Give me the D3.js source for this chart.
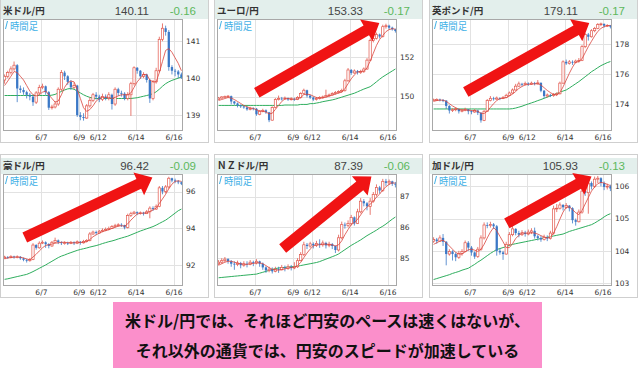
<!DOCTYPE html>
<html><head><meta charset="utf-8">
<script src="https://cdn.jsdelivr.net/npm/d3@7"></script>
<style>body{margin:0;background:#fff}svg{display:block}</style>
</head><body>
<script>
// ---------- DATA ----------
const names = ["米ドル/円","ユーロ/円","英ポンド/円","豪ドル/円","ＮＺドル/円","加ドル/円"];
const lastValues = ["140.11","153.33","179.11","96.42","87.39","105.93"];
const changes = ["-0.16","-0.17","-0.17","-0.09","-0.06","-0.13"];
const dateLabels = ["6/7","6/9","6/12","6/14","6/16"];
const dateIndex = [12,24,30,42,54];
const periodLabel = "時間足";
const captionLines = ["米ドル/円では、それほど円安のペースは速くはないが、","それ以外の通貨では、円安のスピードが加速している"];

const usdTicks=[139,140,141], eurTicks=[150,152], gbpTicks=[174,176,178], audTicks=[92,94,96], nzdTicks=[85,86,87], cadTicks=[103,104,105,106];

const usdOpen0=139.95;
const usdClose=[140.05,140.15,140.25,140.35,139.72,139.68,139.62,139.55,139.50,139.35,139.60,139.75,139.78,139.62,139.20,139.22,139.30,139.70,140.15,140.05,139.90,139.75,139.80,139.00,138.95,138.92,139.25,139.40,139.55,139.50,139.42,139.50,139.45,139.55,139.30,139.70,139.60,139.58,139.45,139.55,139.85,140.28,140.20,140.05,140.10,139.95,139.45,139.90,140.20,141.05,141.35,141.25,140.30,140.20,140.18,140.10,140.02];
const usdHigh=[140.10,140.20,140.32,140.45,140.38,139.80,139.75,139.66,139.60,139.55,139.65,139.82,139.85,139.80,139.65,139.28,139.38,139.75,140.22,140.20,140.08,139.95,139.88,139.82,139.08,139.05,139.30,139.48,139.60,139.62,139.55,139.58,139.56,139.62,139.58,139.75,139.74,139.66,139.62,139.62,139.90,140.32,140.30,140.22,140.16,140.12,139.98,139.95,140.28,141.12,141.48,141.42,141.30,140.35,140.25,140.22,140.15];
const usdLow=[139.85,140.00,140.10,140.20,139.35,139.60,139.55,139.45,139.40,139.25,139.30,139.55,139.70,139.55,139.14,139.15,139.18,139.25,139.65,139.95,139.82,139.68,139.70,138.95,138.86,138.85,138.90,139.20,139.35,139.42,139.35,139.38,139.40,139.40,139.15,139.25,139.52,139.50,139.40,139.40,138.98,139.80,140.12,139.98,140.00,139.88,139.33,139.40,139.85,140.15,141.00,141.15,140.20,140.10,140.05,140.00,139.98];
const usdMaShort=[139.80,139.92,140.05,140.18,140.15,140.05,139.95,139.80,139.65,139.55,139.52,139.55,139.62,139.65,139.55,139.45,139.35,139.38,139.55,139.75,139.88,139.92,139.90,139.70,139.45,139.20,139.10,139.15,139.25,139.38,139.45,139.48,139.48,139.48,139.45,139.48,139.52,139.55,139.55,139.55,139.60,139.75,139.90,140.00,140.10,140.10,139.95,139.90,139.90,140.15,140.45,140.75,140.80,140.70,140.55,140.40,140.20];
const usdMaLong=[139.53,139.53,139.53,139.53,139.53,139.53,139.53,139.53,139.53,139.53,139.53,139.53,139.53,139.53,139.53,139.54,139.56,139.60,139.64,139.68,139.71,139.72,139.70,139.65,139.60,139.55,139.51,139.48,139.46,139.45,139.45,139.45,139.45,139.45,139.45,139.45,139.45,139.45,139.45,139.45,139.45,139.46,139.47,139.49,139.51,139.53,139.55,139.58,139.63,139.70,139.78,139.85,139.90,139.94,139.97,140.00,140.03];

const eurOpen0=149.85;
const eurClose=[149.92,149.98,150.00,150.02,149.75,149.65,149.55,149.50,149.45,149.35,149.40,149.38,149.10,149.25,149.30,149.20,148.80,149.45,149.85,149.90,149.88,149.92,149.85,149.88,149.85,149.95,150.15,150.32,150.05,149.95,149.85,149.90,149.95,149.98,150.05,150.08,150.15,150.20,150.25,150.30,150.80,151.35,151.20,151.30,151.22,151.28,151.40,151.85,152.85,152.95,153.15,153.05,153.55,153.60,153.50,153.42,153.33];
const eurHigh=[149.98,150.02,150.05,150.08,150.05,149.78,149.70,149.60,149.55,149.50,149.48,149.45,149.42,149.30,149.38,149.35,149.22,149.50,149.92,150.05,149.98,150.00,149.95,149.96,149.94,150.02,150.22,150.40,150.35,150.08,150.00,149.98,150.02,150.05,150.35,150.15,150.22,150.28,150.32,150.40,150.90,151.45,151.40,151.38,151.35,151.36,151.48,151.95,152.95,153.05,153.25,153.20,153.65,153.70,153.65,153.55,153.45];
const eurLow=[149.85,149.90,149.95,149.96,149.60,149.58,149.45,149.42,149.38,149.28,149.30,149.30,149.02,149.05,149.20,149.12,148.70,148.78,149.40,149.80,149.80,149.84,149.78,149.80,149.78,149.82,149.90,150.10,149.95,149.88,149.78,149.80,149.85,149.90,149.95,150.00,150.05,150.10,150.15,150.20,150.25,150.75,151.10,151.15,151.12,151.15,151.20,151.35,151.80,152.75,152.90,152.95,153.00,153.45,153.40,153.35,153.25];
const eurMaShort=[149.80,149.85,149.90,149.95,149.92,149.85,149.75,149.65,149.55,149.48,149.42,149.40,149.32,149.28,149.25,149.22,149.12,149.15,149.35,149.55,149.75,149.88,149.90,149.88,149.87,149.88,149.95,150.10,150.12,150.10,150.02,149.95,149.92,149.93,149.98,150.02,150.08,150.12,150.18,150.22,150.40,150.65,150.90,151.10,151.25,151.27,151.30,151.45,151.80,152.20,152.60,152.90,153.10,153.30,153.40,153.45,153.42];
const eurMaLong=[149.55,149.55,149.55,149.55,149.55,149.55,149.55,149.55,149.55,149.55,149.55,149.55,149.55,149.55,149.55,149.55,149.55,149.55,149.55,149.55,149.55,149.57,149.57,149.57,149.57,149.57,149.60,149.60,149.60,149.64,149.64,149.67,149.70,149.74,149.77,149.80,149.83,149.87,149.92,149.97,150.02,150.07,150.12,150.17,150.24,150.31,150.38,150.44,150.50,150.62,150.75,150.88,151.00,151.10,151.20,151.30,151.40];

const gbpOpen0=174.25;
const gbpClose=[174.30,174.32,174.28,174.25,173.90,173.60,173.65,173.70,173.55,173.62,173.68,173.55,173.50,173.60,173.45,172.95,173.55,174.25,174.40,174.35,174.42,174.38,174.45,174.60,174.75,174.95,175.20,175.35,175.30,175.38,175.32,175.40,175.35,175.42,174.90,174.55,174.62,174.58,174.65,174.70,175.40,176.80,176.70,176.80,176.75,176.85,176.90,177.80,178.60,178.45,178.85,179.00,179.25,179.30,179.18,179.20,179.11];
const gbpHigh=[174.38,174.40,174.38,174.35,174.28,173.95,173.75,173.80,173.72,173.70,173.78,173.70,173.62,173.70,173.65,173.48,173.62,174.35,174.55,174.50,174.52,174.48,174.55,174.70,174.85,175.05,175.35,175.50,175.42,175.50,175.45,175.50,175.48,175.60,175.45,174.95,174.72,174.70,174.75,174.80,175.50,176.90,176.95,176.92,176.90,176.95,177.05,177.90,178.70,178.70,178.95,179.10,179.35,179.38,179.32,179.28,179.22];
const gbpLow=[174.20,174.25,174.20,174.15,173.70,173.40,173.50,173.55,173.40,173.48,173.55,173.35,173.35,173.45,173.30,172.80,172.90,173.50,174.20,174.25,174.30,174.28,174.35,174.40,174.55,174.70,174.90,175.15,175.20,175.25,175.22,175.28,175.25,175.30,174.80,174.40,174.45,174.48,174.50,174.55,174.65,175.35,176.60,176.62,176.60,176.70,176.75,176.85,177.70,178.20,178.40,178.75,178.95,179.15,179.05,179.10,179.00];
const gbpMaShort=[174.20,174.25,174.28,174.28,174.20,174.05,173.90,173.78,173.68,173.63,173.63,173.62,173.60,173.58,173.55,173.42,173.40,173.55,173.80,174.05,174.25,174.38,174.40,174.45,174.55,174.68,174.85,175.05,175.18,175.28,175.32,175.35,175.35,175.37,175.28,175.10,174.92,174.78,174.65,174.62,174.78,175.15,175.60,176.05,176.45,176.78,176.82,177.00,177.40,177.80,178.15,178.50,178.80,179.00,179.12,179.18,179.20];
const gbpMaLong=[173.70,173.70,173.70,173.70,173.70,173.70,173.70,173.70,173.70,173.70,173.70,173.70,173.70,173.70,173.70,173.70,173.70,173.70,173.70,173.70,173.70,173.70,173.70,173.70,173.70,173.72,173.76,173.82,173.88,173.96,174.03,174.10,174.17,174.25,174.32,174.40,174.48,174.56,174.64,174.72,174.80,174.88,174.95,175.08,175.22,175.36,175.50,175.66,175.82,175.98,176.15,176.28,176.42,176.55,176.65,176.75,176.82];

const audOpen0=92.40;
const audClose=[92.45,92.42,92.48,92.44,92.46,92.38,92.30,92.25,92.32,93.10,92.95,93.20,93.25,93.15,93.05,93.25,93.35,93.25,93.20,93.22,93.18,93.25,93.20,93.28,93.22,93.30,93.35,93.70,93.80,93.75,93.85,93.90,93.95,94.00,94.10,94.15,94.20,94.18,94.05,94.70,94.80,94.88,94.82,94.85,94.80,94.90,95.10,95.05,95.20,96.20,96.00,96.25,96.72,96.60,96.55,96.50,96.42];
const audHigh=[92.52,92.50,92.55,92.52,92.54,92.50,92.42,92.35,92.40,93.20,93.15,93.30,93.35,93.30,93.20,93.32,93.50,93.40,93.30,93.30,93.28,93.32,93.30,93.35,93.32,93.38,93.42,93.80,93.88,93.88,93.92,94.00,94.05,94.10,94.18,94.25,94.28,94.28,94.20,94.80,94.90,94.95,94.92,94.92,94.90,95.00,95.20,95.20,95.30,96.30,96.30,96.35,96.80,96.75,96.70,96.62,96.55];
const audLow=[92.35,92.35,92.38,92.36,92.38,92.30,92.22,92.15,92.20,92.28,92.85,92.90,93.15,92.95,92.92,93.00,93.20,93.15,93.10,93.12,93.10,93.15,93.10,93.15,93.12,93.18,93.25,93.30,93.65,93.65,93.72,93.80,93.85,93.90,93.98,94.05,94.10,94.08,93.95,94.00,94.62,94.75,94.72,94.75,94.70,94.78,94.55,94.95,95.00,95.15,95.85,95.90,96.15,96.50,96.45,96.40,96.35];
const audMaShort=[92.35,92.40,92.42,92.44,92.45,92.44,92.40,92.35,92.30,92.45,92.60,92.78,92.95,93.08,93.12,93.15,93.20,93.22,93.25,93.25,93.23,93.22,93.22,93.23,93.24,93.25,93.28,93.40,93.55,93.65,93.75,93.82,93.88,93.93,94.00,94.06,94.12,94.15,94.12,94.25,94.45,94.62,94.78,94.82,94.83,94.85,94.92,95.00,95.10,95.35,95.60,95.85,96.15,96.40,96.55,96.58,96.55];
const audMaLong=[91.24,91.27,91.31,91.35,91.39,91.43,91.47,91.51,91.58,91.66,91.75,91.84,91.93,92.02,92.12,92.22,92.32,92.42,92.50,92.56,92.63,92.69,92.75,92.81,92.86,92.90,92.94,92.99,93.03,93.07,93.12,93.18,93.23,93.28,93.32,93.37,93.43,93.48,93.53,93.58,93.65,93.72,93.79,93.86,93.92,93.98,94.04,94.10,94.18,94.27,94.36,94.45,94.57,94.70,94.83,94.96,95.05];

const nzdOpen0=84.80;
const nzdClose=[84.85,84.90,84.95,84.88,84.80,84.78,84.82,84.75,84.80,84.78,84.85,84.82,84.88,84.80,84.68,84.58,84.62,84.55,84.62,84.60,84.68,84.65,84.70,84.66,84.70,84.90,85.10,85.42,85.38,85.45,85.40,85.46,85.42,85.48,85.40,85.44,85.38,85.25,85.65,86.08,86.05,86.12,86.32,86.12,86.50,86.85,86.78,86.68,86.85,87.07,87.30,87.20,87.50,87.45,87.50,87.42,87.39];
const nzdHigh=[84.92,84.98,85.02,84.98,84.92,84.88,84.90,84.86,84.88,84.88,84.92,84.90,84.95,84.90,84.84,84.72,84.70,84.68,84.70,84.70,84.76,84.74,84.78,84.76,84.85,84.98,85.18,85.52,85.48,85.52,85.50,85.55,85.60,85.56,85.52,85.52,85.48,85.40,85.75,86.18,86.15,86.22,86.40,86.35,86.60,86.95,86.92,86.82,86.95,87.15,87.40,87.35,87.58,87.58,87.56,87.52,87.48];
const nzdLow=[84.75,84.80,84.85,84.80,84.70,84.60,84.72,84.65,84.70,84.68,84.75,84.72,84.78,84.70,84.60,84.50,84.52,84.48,84.52,84.50,84.58,84.55,84.60,84.58,84.62,84.66,84.88,85.05,85.28,85.32,85.30,85.35,85.32,85.36,85.30,85.34,85.28,85.15,85.20,85.60,85.95,86.00,86.05,86.05,86.10,86.45,86.68,86.55,86.40,86.80,87.00,87.10,87.15,87.35,87.38,87.35,87.30];
const nzdMaShort=[84.75,84.80,84.85,84.88,84.88,84.85,84.82,84.80,84.78,84.78,84.80,84.81,84.83,84.83,84.80,84.74,84.67,84.62,84.60,84.59,84.61,84.63,84.66,84.67,84.68,84.74,84.84,85.00,85.15,85.28,85.38,85.42,85.42,85.44,85.44,85.43,85.42,85.38,85.42,85.55,85.75,85.92,86.08,86.15,86.25,86.40,86.55,86.65,86.75,86.85,86.98,87.08,87.22,87.32,87.40,87.45,87.44];
const nzdMaLong=[84.34,84.35,84.36,84.37,84.38,84.39,84.40,84.41,84.42,84.43,84.44,84.45,84.46,84.49,84.52,84.55,84.58,84.61,84.64,84.66,84.67,84.68,84.69,84.70,84.71,84.72,84.74,84.76,84.78,84.80,84.82,84.84,84.87,84.91,84.95,84.99,85.03,85.07,85.12,85.19,85.26,85.33,85.40,85.46,85.52,85.58,85.65,85.72,85.78,85.84,85.90,85.97,86.03,86.10,86.18,86.26,86.33];

const cadOpen0=104.30;
const cadClose=[104.35,104.30,104.40,104.28,103.90,103.98,103.90,103.80,103.92,103.98,104.25,104.10,103.95,103.82,104.05,104.40,104.80,104.78,104.82,104.76,104.00,103.95,103.90,104.20,104.50,104.68,104.55,104.50,104.56,104.52,104.58,104.62,104.45,104.40,104.35,104.42,104.38,104.55,105.30,105.32,105.42,105.35,105.40,105.32,104.95,104.90,105.20,105.85,105.80,106.10,106.00,106.22,106.25,106.10,105.98,106.00,105.93];
const cadHigh=[104.42,104.40,104.48,104.52,104.30,104.05,104.02,103.95,104.00,104.05,104.32,104.30,104.15,103.98,104.12,104.48,104.88,104.88,104.90,104.86,104.80,104.08,104.00,104.28,104.58,104.78,104.70,104.62,104.64,104.62,104.66,104.70,104.72,104.50,104.46,104.50,104.48,104.62,105.40,105.45,105.50,105.45,105.48,105.42,105.35,105.00,105.28,105.95,105.95,106.20,106.15,106.30,106.32,106.28,106.15,106.08,106.05];
const cadLow=[104.25,104.22,104.28,104.15,103.55,103.85,103.70,103.68,103.75,103.85,103.95,104.00,103.85,103.75,103.78,104.00,104.35,104.70,104.72,104.68,103.85,103.88,103.72,103.88,104.15,104.45,104.48,104.42,104.46,104.44,104.48,104.52,104.38,104.32,104.28,104.32,104.30,104.35,104.50,105.20,105.28,105.25,105.30,105.22,104.85,104.78,104.88,105.15,105.70,105.15,105.90,105.95,106.10,106.00,105.88,105.90,105.85];
const cadMaShort=[104.20,104.25,104.30,104.33,104.25,104.15,104.05,103.95,103.90,103.90,103.97,104.03,104.05,104.02,103.98,104.05,104.20,104.40,104.58,104.72,104.62,104.45,104.28,104.10,104.10,104.22,104.38,104.48,104.55,104.55,104.54,104.56,104.55,104.52,104.47,104.43,104.40,104.42,104.55,104.75,104.98,105.20,105.35,105.36,105.28,105.18,105.12,105.25,105.45,105.65,105.85,105.98,106.08,106.12,106.10,106.06,106.02];
const cadMaLong=[103.11,103.14,103.17,103.20,103.23,103.26,103.30,103.33,103.36,103.40,103.43,103.46,103.52,103.58,103.65,103.71,103.78,103.85,103.92,103.98,104.04,104.07,104.10,104.13,104.17,104.20,104.22,104.24,104.26,104.28,104.30,104.32,104.34,104.36,104.38,104.40,104.42,104.44,104.46,104.48,104.50,104.52,104.56,104.60,104.63,104.66,104.69,104.72,104.75,104.78,104.81,104.86,104.92,104.98,105.05,105.11,105.15];

// trend arrows: [candle index, price] tail -> head
const eurArrow=[[12.6,150.19],[51.4,153.74]];
const gbpArrow=[[10.7,174.82],[49.8,179.36]];
const audArrow=[[6.9,93.51],[47.3,96.76]];
const nzdArrow=[[20.8,85.30],[48.9,87.66]];
const cadArrow=[[23.7,104.85],[50.5,106.30]];

// ---------- LAYOUT ----------
const W=640,H=368;
const svg=d3.select("body").append("svg").attr("width",W).attr("height",H);
const colX=[0,214,429], rowY=[0,155];
const PW=180, PH=112, PDX=3, PDY=19;
const N=usdClose.length;

const panels=[
 {o0:usdOpen0,c:usdClose,h:usdHigh,l:usdLow,ms:usdMaShort,ml:usdMaLong,dom:[138.57,141.6],ticks:usdTicks,arrow:null},
 {o0:eurOpen0,c:eurClose,h:eurHigh,l:eurLow,ms:eurMaShort,ml:eurMaLong,dom:[148.25,153.94],ticks:eurTicks,arrow:eurArrow},
 {o0:gbpOpen0,c:gbpClose,h:gbpHigh,l:gbpLow,ms:gbpMaShort,ml:gbpMaLong,dom:[172.25,179.62],ticks:gbpTicks,arrow:gbpArrow},
 {o0:audOpen0,c:audClose,h:audHigh,l:audLow,ms:audMaShort,ml:audMaLong,dom:[90.88,96.95],ticks:audTicks,arrow:audArrow},
 {o0:nzdOpen0,c:nzdClose,h:nzdHigh,l:nzdLow,ms:nzdMaShort,ml:nzdMaLong,dom:[84.07,87.74],ticks:nzdTicks,arrow:nzdArrow},
 {o0:cadOpen0,c:cadClose,h:cadHigh,l:cadLow,ms:cadMaShort,ml:cadMaLong,dom:[102.91,106.38],ticks:cadTicks,arrow:cadArrow}
];

const UP="#e2574c", DOWN="#3b78c6";
const defs=svg.append("defs");

function arrowPath(x0,y0,x1,y1){
  const dx=x1-x0, dy=y1-y0, len=Math.hypot(dx,dy);
  const ux=dx/len, uy=dy/len, nx=-uy, ny=ux;
  const w=5.5, hw=12.5, hl=15;
  const bx=x1-ux*hl, by=y1-uy*hl;
  const pts=[[x0+nx*w,y0+ny*w],[bx+nx*w,by+ny*w],[bx+nx*hw,by+ny*hw],[x1,y1],[bx-nx*hw,by-ny*hw],[bx-nx*w,by-ny*w],[x0-nx*w,y0-ny*w]];
  return d3.line()(pts)+"Z";
}

panels.forEach((p,k)=>{
  const col=k%3, row=Math.floor(k/3);
  const px=colX[col], py=rowY[row];
  const L=px+PDX, T=py+PDY, R=L+PW, B=T+PH;
  const x=d3.scaleLinear().domain([0,N]).range([L,R]);
  const y=d3.scaleLinear().domain(p.dom).range([B,T]);
  const g=svg.append("g");

  // panel frame
  g.append("rect").attr("x",px+0.5).attr("y",py-0.5).attr("width",208).attr("height",143)
    .attr("fill","#fff").attr("stroke","#cfcfcf");
  const hTop = row===0 ? py : py+3;
  g.append("rect").attr("x",px+1).attr("y",hTop).attr("width",207).attr("height",T-hTop)
    .attr("fill","#e3efec");
  // header texts
  g.append("text").attr("x",px+3).attr("y",T-5).text(names[k])
    .attr("font-family","'Noto Sans CJK JP'").attr("font-size",9.5).attr("font-weight","bold").attr("fill","#333");
  g.append("text").attr("x",px+149).attr("y",T-4.5).attr("text-anchor","end").text(lastValues[k])
    .attr("font-family","'Liberation Sans',Arial").attr("font-size",11.5).attr("fill","#444");
  g.append("text").attr("x",px+196).attr("y",T-4.5).attr("text-anchor","end").text(changes[k])
    .attr("font-family","'Liberation Sans',Arial").attr("font-size",11.5).attr("fill","#5cb85c");

  // plot background
  g.append("rect").attr("x",L).attr("y",T).attr("width",PW).attr("height",PH).attr("fill","#fff");
  // grid
  g.append("g").selectAll("line").data(dateIndex).join("line")
    .attr("x1",d=>Math.round(x(d))+0.5).attr("x2",d=>Math.round(x(d))+0.5).attr("y1",T).attr("y2",B)
    .attr("stroke","#e2e2e2");
  g.append("g").selectAll("line").data(p.ticks).join("line")
    .attr("x1",L).attr("x2",R).attr("y1",d=>Math.round(y(d))+0.5).attr("y2",d=>Math.round(y(d))+0.5)
    .attr("stroke","#e2e2e2");

  const cid="clip"+k;
  defs.append("clipPath").attr("id",cid).append("rect").attr("x",L).attr("y",T).attr("width",PW).attr("height",PH);
  const pg=g.append("g").attr("clip-path",`url(#${cid})`);

  // period label (fully inside the plot)
  g.append("line").attr("x1",L+2.5).attr("x2",L+4.5).attr("y1",T+10).attr("y2",T+2)
    .attr("stroke","#3fb0e6").attr("stroke-width",1);
  g.append("text").attr("x",L+7).attr("y",T+11).text(periodLabel)
    .attr("font-family","'Noto Sans CJK JP'").attr("font-size",10.5).attr("fill","#3fb0e6")
    .attr("textLength",28).attr("lengthAdjust","spacingAndGlyphs");

  // long MA
  pg.append("path").datum(p.ml).attr("fill","none").attr("stroke","#2fae5e").attr("stroke-width",1)
    .attr("d",d3.line().x((d,i)=>x(i+0.5)).y(d=>y(d)));

  // candles
  const candles=p.c.map((c,i)=>({i,o:i===0?p.o0:p.c[i-1],c,h:p.h[i],l:p.l[i]}));
  const bw=(x(1)-x(0))*0.72;
  const cg=pg.append("g");
  cg.selectAll("line").data(candles).join("line")
    .attr("x1",d=>x(d.i+0.5)).attr("x2",d=>x(d.i+0.5)).attr("y1",d=>y(d.h)).attr("y2",d=>y(d.l))
    .attr("stroke",d=>d.c>=d.o?UP:DOWN).attr("stroke-width",0.8);
  cg.selectAll("rect").data(candles).join("rect")
    .attr("x",d=>x(d.i+0.5)-bw/2).attr("width",bw)
    .attr("y",d=>y(Math.max(d.o,d.c))).attr("height",d=>Math.max(0.8,Math.abs(y(d.o)-y(d.c))))
    .attr("fill",d=>d.c>=d.o?"#fff":DOWN)
    .attr("stroke",d=>d.c>=d.o?UP:"none").attr("stroke-width",0.7);

  // short MA
  pg.append("path").datum(p.ms).attr("fill","none").attr("stroke","#d9443c").attr("stroke-width",0.8)
    .attr("d",d3.line().x((d,i)=>x(i+0.5)).y(d=>y(d)));

  // border
  g.append("rect").attr("x",L+0.5).attr("y",T+0.5).attr("width",PW-1).attr("height",PH-1)
    .attr("fill","none").attr("stroke","#a8a8a8");

  // axes
  const xa=g.append("g").attr("transform",`translate(0,${B})`)
    .call(d3.axisBottom(x).tickValues(dateIndex).tickFormat((d,i)=>dateLabels[i]).tickSize(0).tickPadding(4));
  xa.select(".domain").remove();
  xa.selectAll("text").attr("font-family","'DejaVu Sans'").attr("font-size",7.5).attr("fill","#333");
  const ya=g.append("g").attr("transform",`translate(${R},0)`)
    .call(d3.axisRight(y).tickValues(p.ticks).tickFormat(d3.format("d")).tickSize(0).tickPadding(3));
  ya.select(".domain").remove();
  ya.selectAll("text").attr("font-family","'DejaVu Sans'").attr("font-size",7.5).attr("fill","#333");

  // trend arrow
  if(p.arrow){
    const [a0,a1]=p.arrow;
    svg.append("path").attr("d",arrowPath(x(a0[0]),y(a0[1]),x(a1[0]),y(a1[1]))).attr("fill","#f01414");
  }
});

// caption box
svg.append("rect").attr("x",113).attr("y",302).attr("width",429).attr("height",66).attr("fill","#fb8fcb");
svg.append("g").selectAll("text").data(captionLines).join("text")
  .attr("x",327.5).attr("y",(d,i)=>327+i*30).attr("text-anchor","middle").text(d=>d)
  .attr("font-family","'Noto Sans CJK JP'").attr("font-size",16).attr("font-weight","bold").attr("fill","#111");
</script>
</body></html>
